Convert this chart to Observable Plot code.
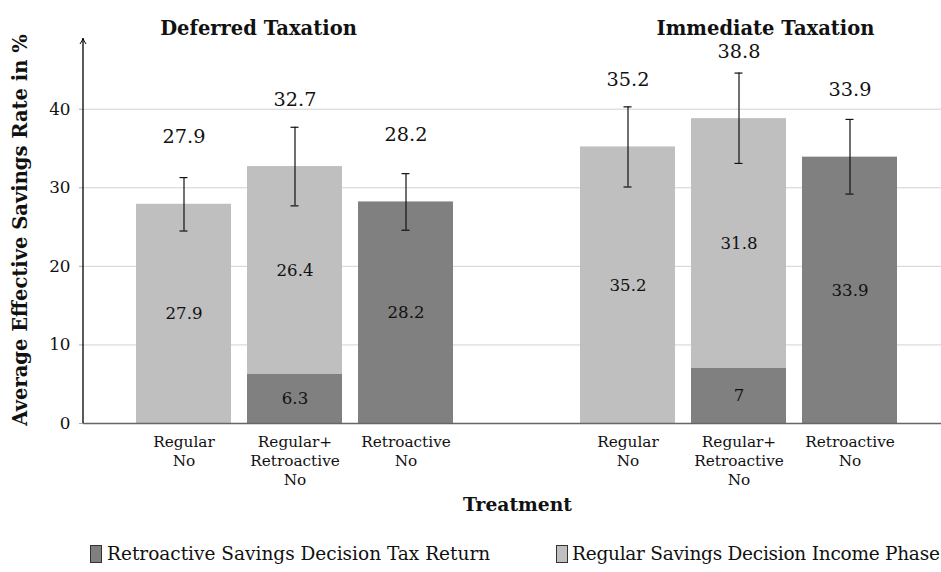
<!DOCTYPE html>
<html>
<head>
<meta charset="utf-8">
<script src="https://cdn.jsdelivr.net/npm/d3@7"></script>
<script src="https://cdn.jsdelivr.net/npm/@observablehq/plot@0.6"></script>
<style>
  html, body { margin: 0; padding: 0; background: white; }
  #wrap { width: 941px; height: 572px; overflow: hidden; position: relative; }
  #legend { position: relative; height: 42px; font-family: "DejaVu Serif", serif; font-size: 18.5px; color: #111; }
  .sw { position: absolute; top: 15px; width: 12px; height: 18px; border: 1px solid #333; box-sizing: border-box; }
  .lt { position: absolute; top: 11px; white-space: nowrap; line-height: 26px; }
</style>
</head>
<body>
<div id="wrap">
  <div id="chart"></div>
  <div id="legend"></div>
</div>
<script>
const groups = ["Deferred Taxation", "Immediate Taxation"];
const treatments = ["Regular", "Regular+Retroactive", "Retroactive"];
const treatmentLabels = ["Regular\nNo", "Regular+\nRetroactive\nNo", "Retroactive\nNo"];
const series = ["Retroactive Savings Decision Tax Return", "Regular Savings Decision Income Phase"];
const seriesColors = ["#808080", "#bfbfbf"];
// order: Deferred (Regular, Reg+Retro, Retro), Immediate (Regular, Reg+Retro, Retro)
const retroValues = [0, 6.3, 28.2, 0, 7, 33.9];
const regularValues = [27.9, 26.4, 0, 35.2, 31.8, 0];
const totals = [27.9, 32.7, 28.2, 35.2, 38.8, 33.9];
const errLow = [24.5, 27.7, 24.6, 30.1, 33.1, 29.2];
const errHigh = [31.3, 37.7, 31.8, 40.3, 44.6, 38.7];
const yTicks = [0, 10, 20, 30, 40];
const yMax = 49;

const keyOf = (g, t) => g + "|" + t;
const bars = [];
groups.forEach((g, gi) => treatments.forEach((t, ti) => {
  const i = gi * treatments.length + ti;
  bars.push({key: keyOf(g, t), retro: retroValues[i], regular: regularValues[i], total: totals[i], low: errLow[i], high: errHigh[i]});
}));
const segments = [];
bars.forEach(b => {
  if (b.retro > 0) segments.push({key: b.key, series: series[0], value: b.retro});
  if (b.regular > 0) segments.push({key: b.key, series: series[1], value: b.regular});
});
const xDomain = [...treatments.map(t => keyOf(groups[0], t)), "", ...treatments.map(t => keyOf(groups[1], t))];
const labelMap = new Map();
groups.forEach(g => treatments.forEach((t, ti) => labelMap.set(keyOf(g, t), treatmentLabels[ti])));

const serifFont = "'DejaVu Serif', serif";

const chart = Plot.plot({
  width: 941,
  height: 530,
  marginLeft: 83,
  marginRight: -10,
  marginTop: 38,
  marginBottom: 107,
  style: {fontFamily: serifFont, fontSize: "16px", background: "white", color: "#111"},
  x: {type: "band", domain: xDomain, paddingInner: 0.144, paddingOuter: 0.48},
  y: {domain: [0, yMax]},
  color: {domain: series, range: seriesColors},
  marks: [
    Plot.gridY(yTicks, {stroke: "#d2d2d2", strokeOpacity: 1, strokeWidth: 1}),
    Plot.axisY(yTicks, {tickSize: 4, tickPadding: 9, stroke: "#a8a8a8", fill: "#111", fontSize: 16.8, label: null}),
    Plot.barY(segments, Plot.stackY({x: "key", y: "value", fill: "series"})),
    Plot.ruleY([0], {stroke: "#666", strokeWidth: 1.4}),
    Plot.ruleX(bars, {x: "key", y1: "low", y2: "high", stroke: "#111", strokeWidth: 1.2}),
    Plot.tickY(bars, {x: "key", y: "low", insetLeft: 43.5, insetRight: 43.5, stroke: "#111", strokeWidth: 1.2}),
    Plot.tickY(bars, {x: "key", y: "high", insetLeft: 43.5, insetRight: 43.5, stroke: "#111", strokeWidth: 1.2}),
    Plot.text(segments, Plot.stackY({x: "key", y: "value", text: d => String(d.value), fontSize: 16.6, fill: "#111"})),
    Plot.text(bars, {x: "key", y: "total", text: d => String(d.total), dy: -67, fontSize: 19.3, fill: "#111"}),
    Plot.axisX({tickSize: 0, tickPadding: 10, tickFormat: k => labelMap.get(k) ?? "", fontSize: 15.3, lineHeight: 1.24, label: null, fill: "#111"}),
    Plot.text([groups[0]], {x: () => keyOf(groups[0], treatments[1]), frameAnchor: "top", dy: -17.5, dx: -36.5, text: d => d, fontWeight: "bold", fontSize: 19.5, fill: "#111"}),
    Plot.text([groups[1]], {x: () => keyOf(groups[1], treatments[1]), frameAnchor: "top", dy: -17.5, dx: 26.5, text: d => d, fontWeight: "bold", fontSize: 19.5, fill: "#111"}),
    Plot.text(["Average Effective Savings Rate in %"], {frameAnchor: "left", textAnchor: "middle", rotate: -90, dx: -63, dy: -1, text: d => d, fontWeight: "bold", fontSize: 19.5, fill: "#111"}),
    Plot.text(["Treatment"], {frameAnchor: "bottom", dy: 87, text: d => d, fontWeight: "bold", fontSize: 18.7, fill: "#111"}),
    (index, scales, values, dimensions) => {
      const x = dimensions.marginLeft;
      const y0 = scales.y(0), y1 = scales.y(yMax);
      const g = d3.create("svg:g");
      g.append("line").attr("x1", x).attr("x2", x).attr("y1", y0).attr("y2", y1 + 1)
        .attr("stroke", "#000").attr("stroke-width", 1.3);
      g.append("path").attr("d", `M${x - 3},${y1 + 6} Q${x - 0.5},${y1 + 2.5} ${x},${y1} Q${x + 0.5},${y1 + 2.5} ${x + 3},${y1 + 6}`)
        .attr("fill", "none").attr("stroke", "#000").attr("stroke-width", 1);
      return g.node();
    }
  ]
});
document.getElementById("chart").appendChild(chart);

const legend = document.getElementById("legend");
const legendPos = [{sw: 90, tx: 107, ls: "0px"}, {sw: 556, tx: 572, ls: "-0.25px"}];
series.forEach((s, i) => {
  const sw = document.createElement("div");
  sw.className = "sw";
  sw.style.left = legendPos[i].sw + "px";
  sw.style.background = seriesColors[i];
  legend.appendChild(sw);
  const t = document.createElement("span");
  t.className = "lt";
  t.style.left = legendPos[i].tx + "px";
  t.style.letterSpacing = legendPos[i].ls;
  t.textContent = s;
  legend.appendChild(t);
});
</script>
</body>
</html>
